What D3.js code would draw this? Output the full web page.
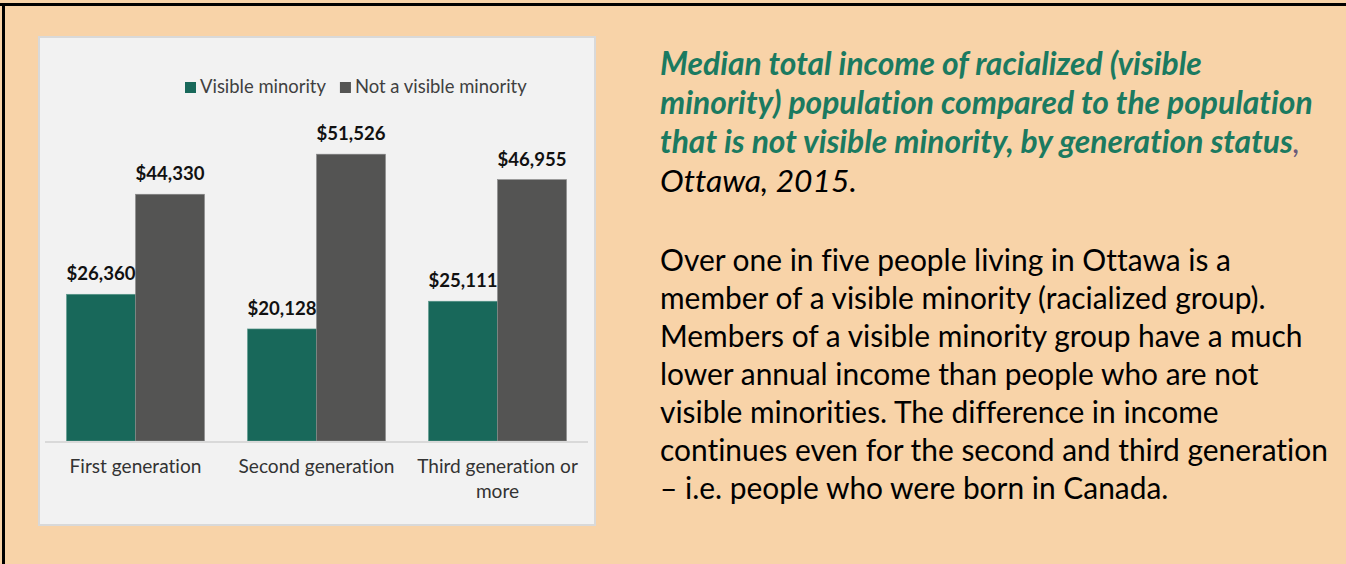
<!DOCTYPE html>
<html>
<head>
<meta charset="utf-8">
<script src="https://cdn.jsdelivr.net/npm/d3@7"></script>
<style>
  body { margin: 0; background: #f8d3a8; }
  svg { display: block; }
  text { font-variant-ligatures: none; font-feature-settings: "liga" 0, "dlig" 0; }
</style>
</head>
<body>
<svg id="panel" width="1346" height="564"></svg>
<script>
// data
const categories = ["First generation", "Second generation", "Third generation or more"];
const series = ["Visible minority", "Not a visible minority"];
const visibleMinority = [26360, 20128, 25111];
const notVisibleMinority = [44330, 51526, 46955];
const titleLines = [
  "Median total income of racialized (visible",
  "minority) population compared to the population",
  "that is not visible minority, by generation status"
];
const titleTail = "Ottawa, 2015.";
const bodyLines = [
  "Over one in five people living in Ottawa is a",
  "member of a visible minority (racialized group).",
  "Members of a visible minority group have a much",
  "lower annual income than people who are not",
  "visible minorities. The difference in income",
  "continues even for the second and third generation",
  "\u2013 i.e. people who were born in Canada."
];

const colors = ["#18685a", "#545453"];
const font = "Lato, 'Open Sans', sans-serif";

const svg = d3.select("#panel");

// black frame top and left
svg.append("rect").attr("x", 0).attr("y", 3).attr("width", 1346).attr("height", 3).attr("fill", "#000");
svg.append("rect").attr("x", 2).attr("y", 3).attr("width", 3).attr("height", 561).attr("fill", "#000");

// helper: size text so a sample line gets the wanted width
function fitSize(str, weight, style, target) {
  const t = svg.append("text").attr("font-family", font).attr("font-weight", weight)
    .attr("font-style", style).attr("font-size", 100).text(str);
  const w = t.node().getComputedTextLength();
  t.remove();
  return 100 * target / w;
}

// chart box
const box = svg.append("g");
box.append("rect").attr("x", 39).attr("y", 37).attr("width", 556).attr("height", 488)
  .attr("fill", "#f2f2f2").attr("stroke", "#d9d9d9").attr("stroke-width", 2);

const x0 = d3.scaleBand().domain(categories).range([45, 588]).paddingInner(0.2376).paddingOuter(0.1188);
const x1 = d3.scaleBand().domain(series).range([0, x0.bandwidth()]);
const y = d3.scaleLinear().domain([0, 60000]).range([441, 107]);

const rows = categories.map((c, i) => ({ cat: c, vals: [visibleMinority[i], notVisibleMinority[i]] }));

const groups = box.selectAll("g.grp").data(rows).join("g").attr("class", "grp")
  .attr("transform", d => `translate(${x0(d.cat)},0)`);

groups.selectAll("rect").data(d => d.vals.map((v, j) => ({ s: series[j], v, j })))
  .join("rect")
  .attr("x", d => x1(d.s))
  .attr("width", x1.bandwidth())
  .attr("y", d => y(d.v))
  .attr("height", d => y(0) - y(d.v))
  .attr("fill", d => colors[d.j])
  .attr("stroke", d => d.j ? "#8a8a8a" : "#5f9a8e")
  .attr("stroke-width", 0.6);

const labSize = fitSize("$51,526", 700, "normal", 69);
groups.selectAll("text.val").data(d => d.vals.map((v, j) => ({ s: series[j], v, j })))
  .join("text").attr("class", "val")
  .attr("x", d => x1(d.s) + x1.bandwidth() / 2)
  .attr("y", d => y(d.v) - 14)
  .attr("text-anchor", "middle")
  .attr("font-family", font).attr("font-weight", 700).attr("font-size", labSize)
  .attr("fill", "#111")
  .text(d => "$" + d3.format(",")(d.v));

// axis line
box.append("line").attr("x1", 45).attr("x2", 588).attr("y1", 442).attr("y2", 442)
  .attr("stroke", "#d9d9d9").attr("stroke-width", 2);

// category labels
const catSize = fitSize("Second generation", 400, "normal", 156);
const catLines = { "Third generation or more": ["Third generation or", "more"] };
categories.forEach(c => {
  const lines = catLines[c] || [c];
  const t = box.append("text").attr("text-anchor", "middle").attr("font-family", font)
    .attr("font-size", catSize).attr("fill", "#333");
  lines.forEach((l, k) => {
    t.append("tspan").attr("x", x0(c) + x0.bandwidth() / 2).attr("y", 473 + k * 25).text(l);
  });
});

// legend
const legSize = fitSize("Visible minority", 400, "normal", 126);
const leg = box.append("g");
let lx = 185;
series.forEach((s, j) => {
  leg.append("rect").attr("x", lx).attr("y", 82).attr("width", 11).attr("height", 11).attr("fill", colors[j]);
  const t = leg.append("text").attr("x", lx + 15).attr("y", 93).attr("font-family", font)
    .attr("font-size", legSize).attr("fill", "#404040").text(s);
  lx += 15 + t.node().getComputedTextLength() + 14;
});

// right side text
const tSize = fitSize(titleLines[1], 700, "italic", 653);
const title = svg.append("text").attr("font-family", font).attr("font-weight", 700)
  .attr("font-style", "italic").attr("font-size", tSize).attr("fill", "#1b7a60");
titleLines.forEach((l, k) => {
  const ts = title.append("tspan").attr("x", 660).attr("y", 75 + k * 39).text(l);
  if (k === titleLines.length - 1) ts.append("tspan").attr("fill", "#6b5a7a").attr("font-weight", 400).text(",");
});
svg.append("text").attr("x", 660).attr("y", 192).attr("font-family", font)
  .attr("font-style", "italic").attr("font-size", tSize).attr("fill", "#000").text(titleTail);

const bSize = fitSize(bodyLines[5], 400, "normal", 668);
const body = svg.append("text").attr("font-family", font).attr("font-size", bSize).attr("fill", "#000");
bodyLines.forEach((l, k) => {
  body.append("tspan").attr("x", 660).attr("y", 271 + k * 38).text(l);
});
</script>
</body>
</html>
